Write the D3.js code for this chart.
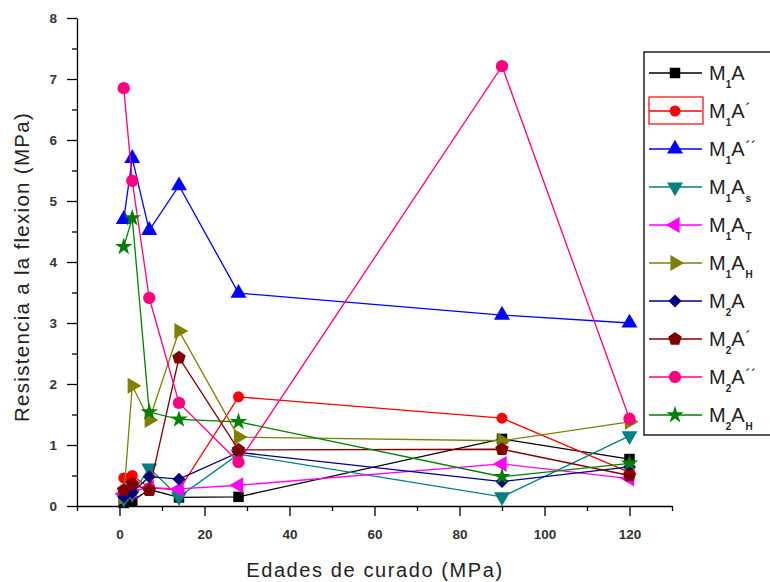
<!DOCTYPE html>
<html><head><meta charset="utf-8">
<script src="https://cdn.jsdelivr.net/npm/d3@7"></script>
<style>body{margin:0;background:#fff}svg{display:block}</style>
</head><body>
<svg id="chart" width="770" height="582"></svg>
<script>
const days = [1, 3, 7, 14, 28, 90, 120];
const xTicks = [0, 20, 40, 60, 80, 100, 120];
const yTicks = [0, 1, 2, 3, 4, 5, 6, 7, 8];
const seriesNames = ["M1A", "M1A´", "M1A´´", "M1As", "M1AT", "M1AH", "M2A", "M2A´", "M2A´´", "M2AH"];
const M1A    = [0.05, 0.08, 0.27, 0.14, 0.15, 1.10, 0.77];
const M1A1   = [0.46, 0.50, 0.30, 0.26, 1.79, 1.44, 0.55];
const M1A2   = [4.70, 5.70, 4.52, 5.25, 3.49, 3.13, 3.00];
const M1As   = [0.12, 0.20, 0.62, 0.15, 0.85, 0.15, 1.15];
const M1AT   = [0.20, 0.25, 0.30, 0.28, 0.34, 0.69, 0.45];
const M1AH   = [0.15, 1.97, 1.41, 2.87, 1.13, 1.07, 1.38];
const M2A    = [0.15, 0.22, 0.48, 0.44, 0.88, 0.40, 0.64];
const M2A1   = [0.26, 0.36, 0.26, 2.43, 0.92, 0.93, 0.50];
const M2A2   = [6.85, 5.33, 3.41, 1.69, 0.72, 7.21, 1.43];
const M2AH   = [4.25, 4.72, 1.54, 1.42, 1.38, 0.48, 0.70];
const seriesValues = [M1A, M1A1, M1A2, M1As, M1AT, M1AH, M2A, M2A1, M2A2, M2AH];
const colors = ["#000000", "#FF0000", "#0000FF", "#008080", "#FF00FF", "#808000", "#000080", "#800000", "#FF0080", "#008000"];
const legendLabels = [
  ["M","1","A","",""], ["M","1","A","´",""], ["M","1","A","´´",""], ["M","1","A","","s"], ["M","1","A","","T"],
  ["M","1","A","","H"], ["M","2","A","",""], ["M","2","A","´",""], ["M","2","A","´´",""], ["M","2","A","","H"]
];

const pentagon = {draw(ctx, size){
  const r = Math.sqrt(size / 2.378);
  for (let i = 0; i < 5; i++) {
    const a = -Math.PI/2 + i * 2 * Math.PI / 5;
    const px = r * Math.cos(a), py = r * Math.sin(a);
    if (i === 0) ctx.moveTo(px, py); else ctx.lineTo(px, py);
  }
  ctx.closePath();
}};
const shapes = [
  {type: d3.symbolSquare, size: 110, rot: 0},
  {type: d3.symbolCircle, size: 95, rot: 0},
  {type: d3.symbolTriangle, size: 110, rot: 0},
  {type: d3.symbolTriangle, size: 110, rot: 180},
  {type: d3.symbolTriangle, size: 110, rot: -90},
  {type: d3.symbolTriangle, size: 110, rot: 90},
  {type: d3.symbolSquare, size: 85, rot: 45},
  {type: pentagon, size: 120, rot: 0},
  {type: d3.symbolCircle, size: 120, rot: 0},
  {type: d3.symbolStar, size: 95, rot: 0}
];

const svg = d3.select("#chart");
const x = d3.scaleLinear().domain([-10, 130]).range([77, 672]);
const y = d3.scaleLinear().domain([0, 8]).range([506, 18]);
const font = "'Liberation Sans', Arial, sans-serif";

// axes
svg.append("g").attr("transform", "translate(0,506)")
  .call(d3.axisBottom(x).tickValues(xTicks).tickSize(10).tickSizeOuter(0).tickPadding(13));
svg.append("g").attr("transform", "translate(0,506)")
  .call(d3.axisBottom(x).tickValues(d3.range(-10, 131, 20)).tickSize(5).tickFormat(""))
  .select(".domain").remove();
svg.append("g").attr("transform", "translate(77,0)")
  .call(d3.axisLeft(y).tickValues(yTicks).tickSize(10).tickSizeOuter(0).tickPadding(10));
svg.append("g").attr("transform", "translate(77,0)")
  .call(d3.axisLeft(y).tickValues(d3.range(0.5, 8, 1)).tickSize(5).tickFormat(""))
  .select(".domain").remove();
svg.selectAll(".domain, .tick line").attr("stroke", "#000").attr("stroke-width", 1.3);
svg.selectAll(".tick text").attr("font-family", font).attr("font-size", 13.5)
  .attr("font-weight", "bold").attr("fill", "#333");

// axis titles
svg.append("text").attr("x", 375).attr("y", 577).attr("text-anchor", "middle")
  .attr("font-family", font).attr("font-size", 20).attr("letter-spacing", 1.6).attr("fill", "#222")
  .text("Edades de curado (MPa)");
svg.append("text").attr("transform", "translate(29,267) rotate(-90)").attr("text-anchor", "middle")
  .attr("font-family", font).attr("font-size", 20.5).attr("letter-spacing", 1.3).attr("fill", "#222")
  .text("Resistencia a la flexion (MPa)");

// series
const line = d3.line().x((d, i) => x(days[i])).y(d => y(d));
seriesValues.forEach((vals, k) => {
  const g = svg.append("g");
  g.append("path").attr("d", line(vals)).attr("fill", "none")
    .attr("stroke", colors[k]).attr("stroke-width", 1.3);
  const sym = d3.symbol().type(shapes[k].type).size(shapes[k].size);
  g.selectAll("path.m").data(vals).enter().append("path").attr("class", "m")
    .attr("d", sym)
    .attr("transform", (d, i) => `translate(${x(days[i])},${y(d)}) rotate(${shapes[k].rot})`)
    .attr("fill", colors[k]);
});

// legend
const lg = svg.append("g");
lg.append("rect").attr("x", 644).attr("y", 52).attr("width", 140).attr("height", 383)
  .attr("fill", "#fff").attr("stroke", "#000").attr("stroke-width", 1.3);
seriesNames.forEach((name, k) => {
  const cy = 73 + k * 38;
  lg.append("line").attr("x1", 649).attr("x2", 702).attr("y1", cy).attr("y2", cy)
    .attr("stroke", colors[k]).attr("stroke-width", 1.3);
  const sym = d3.symbol().type(shapes[k].type).size(shapes[k].size);
  lg.append("path").attr("d", sym).attr("fill", colors[k])
    .attr("transform", `translate(675,${cy}) rotate(${shapes[k].rot})`);
  if (k === 1) {
    lg.append("rect").attr("x", 649).attr("y", cy - 14).attr("width", 54).attr("height", 27)
      .attr("fill", "none").attr("stroke", "#FF0000").attr("stroke-width", 1.2);
  }
  const parts = legendLabels[k];
  const t = lg.append("text").attr("x", 709).attr("y", cy + 7)
    .attr("font-family", font).attr("font-size", 20).attr("fill", "#222");
  t.append("tspan").text(parts[0]);
  t.append("tspan").attr("font-size", 10).attr("font-weight", "bold").attr("dy", 8).text(parts[1]);
  t.append("tspan").attr("dy", -8).text(parts[2]);
  if (parts[3]) t.append("tspan").attr("font-size", 16).attr("dy", -3).attr("dx", 1).text(parts[3]);
  if (parts[4]) t.append("tspan").attr("font-size", 10).attr("font-weight", "bold").attr("dy", 8).attr("dx", 1).text(parts[4]);
});
</script>
</body></html>
